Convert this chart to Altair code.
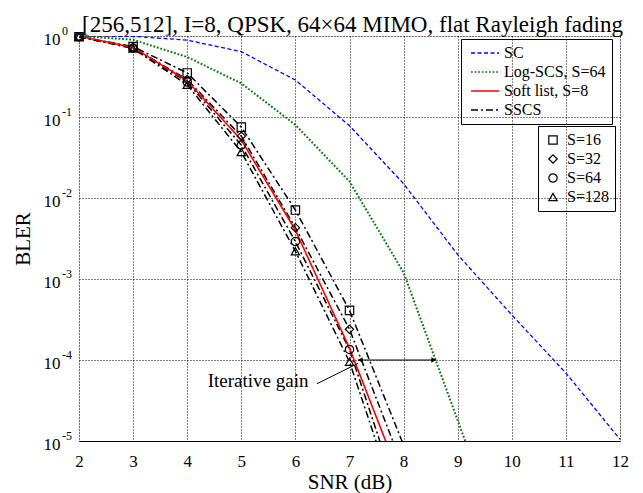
import altair as alt
import pandas as pd

FONT = "Liberation Serif"

# ---- data ----
snr_sc = [2, 3, 4, 5, 6, 7, 8, 9, 10, 11, 12]
bler_sc = [1.0, 0.99, 0.89, 0.64, 0.286, 0.078, 0.0150, 0.0020, 3.6e-4, 6.9e-5, 1.05e-5]

snr_log = [2, 3, 4, 5, 6, 7, 8, 9, 10]
bler_log = [1.0, 0.90, 0.55, 0.26, 0.080, 0.016, 0.0012, 1.8e-5, 2.5e-7]

snr_list = [2, 3, 4, 5, 6, 7, 8]
bler_soft = [1.0, 0.72, 0.28, 0.052, 0.0040, 1.4e-4, 2.7e-6]
bler_s16 = [0.98, 0.74, 0.35, 0.075, 0.0071, 4.1e-4, 8.9e-6]
bler_s32 = [0.98, 0.72, 0.29, 0.058, 0.0043, 2.4e-4, 4.5e-6]
bler_s64 = [0.98, 0.71, 0.27, 0.045, 0.0029, 1.35e-4, 1.3e-6]
bler_s128 = [0.98, 0.70, 0.25, 0.037, 0.0022, 9.5e-5, 9.5e-7]

methods = ["SC", "Log-SCS, S=64", "Soft list, S=8", "SSCS"]
s_labels = ["S=16", "S=32", "S=64", "S=128"]

x_ticks = [2, 3, 4, 5, 6, 7, 8, 9, 10, 11, 12]
y_ticks = [1, 0.1, 0.01, 0.001, 1e-4, 1e-5]
y_exps = ["0", "-1", "-2", "-3", "-4", "-5"]

# annotation: double arrow (iterative gain) and text with pointer
gain_x = [7.16]
gain_x2 = [8.60]
gain_y = [1e-4]
head_left_x = [7.20]
head_right_x = [8.556]
note_x = [4.38]
note_y = [4.7e-5]
note_text = ["Iterative gain"]
ptr_x = [6.40]
ptr_y = [5.1e-5]
ptr_x2 = [7.16]
ptr_y2 = [9.1e-5]

rows = []
def add(method, curve, xs, ys):
    for a, b in zip(xs, ys):
        rows.append({"snr": a, "bler": b, "method": method, "curve": curve})

add("SC", "SC", snr_sc, bler_sc)
add("Log-SCS, S=64", "Log-SCS", snr_log, bler_log)
add("Soft list, S=8", "Soft", snr_list, bler_soft)
for lab, ys in zip(s_labels, [bler_s16, bler_s32, bler_s64, bler_s128]):
    add("SSCS", lab, snr_list, ys)
df = pd.DataFrame(rows)

xscale = alt.Scale(domain=[2, 12], nice=False, zero=False)
yscale = alt.Scale(type="log", domain=[1e-5, 1], nice=False)

xaxis = alt.Axis(values=x_ticks, format="d", grid=True, gridDash=[1, 2], gridColor="black",
                 gridOpacity=1, ticks=False, tickSize=0, domainColor="black", domainWidth=1,
                 labelFont=FONT, labelFontSize=17, labelColor="black", labelPadding=12,
                 labelFlush=False, labelOverlap=False, titleFont=FONT, titleFontSize=21,
                 titleFontWeight="normal", titleColor="black", titlePadding=2)
yaxis = alt.Axis(values=y_ticks, labelExpr="'10'", grid=True, gridDash=[1, 2], gridColor="black",
                 gridOpacity=1, ticks=False, tickSize=0, domain=False,
                 labelFont=FONT, labelFontSize=17, labelColor="black", labelPadding=19,
                 labelBaseline="alphabetic", labelOffset=8, labelFlush=False, labelOverlap=False,
                 titleFont=FONT, titleFontSize=21, titleFontWeight="normal", titleColor="black",
                 titlePadding=10)

X = alt.X("snr:Q", scale=xscale, axis=xaxis, title="SNR (dB)")
Y = alt.Y("bler:Q", scale=yscale, axis=yaxis, title="BLER")

nb = "\u00a0"
leg1 = alt.Legend(title=None, orient="none", legendX=382, legendY=3, strokeColor="black",
                  padding=6, rowPadding=3, symbolType="M-2.8,0H2.8", symbolSize=100,
                  symbolStrokeWidth=1.5, symbolOffset=10, labelOffset=11,
                  labelFont=FONT, labelFontSize=16, labelColor="black",
                  labelExpr="datum.label + '" + nb * 2 + "'")
color = alt.Color("method:N", scale=alt.Scale(domain=methods,
                  range=["#0000ff", "#008000", "#ff0000", "#000000"]), legend=leg1)
dash = alt.StrokeDash("method:N", scale=alt.Scale(domain=methods,
                      range=[[4, 2.5], [1.8, 1.8], [1, 0], [7, 3, 2, 3]]), legend=leg1)

def line_layer(method, width):
    return (alt.Chart(df).transform_filter(alt.datum.method == method)
            .mark_line(clip=True, strokeWidth=width)
            .encode(x=X, y=Y, color=color, strokeDash=dash, detail="curve:N"))

l_sc = line_layer("SC", 1.3)
l_log = line_layer("Log-SCS, S=64", 2.0)
l_ss = line_layer("SSCS", 1.5)
l_soft = line_layer("Soft list, S=8", 1.6)

leg2 = alt.Legend(title=None, orient="none", legendX=459, legendY=90, strokeColor="black",
                  padding=6, rowPadding=3, symbolStrokeColor="black", symbolStrokeWidth=1.2,
                  symbolSize=70, symbolOffset=1, labelOffset=6,
                  labelFont=FONT, labelFontSize=16, labelColor="black",
                  labelExpr="datum.label + '" + nb * 3 + "'")
pts = (alt.Chart(df).transform_filter("datum.method == 'SSCS' && datum.bler >= 1e-5")
       .mark_point(filled=False, color="black", size=70, strokeWidth=1.2, opacity=1)
       .encode(x=X, y=Y,
               shape=alt.Shape("curve:N", scale=alt.Scale(domain=s_labels,
                               range=["square", "diamond", "circle", "triangle-up"]), legend=leg2)))

# y-axis exponents
exp_df = pd.DataFrame({"bler": y_ticks, "e": y_exps})
exps = (alt.Chart(exp_df).mark_text(align="left", baseline="alphabetic", font=FONT, fontSize=12,
                                    color="black", dy=-1)
        .encode(x=alt.value(-17), y=Y, text="e:N"))

# annotations
gain_df = pd.DataFrame({"snr": gain_x, "snr2": gain_x2, "bler": gain_y})
gain = alt.Chart(gain_df).mark_rule(color="black", strokeWidth=1).encode(x=X, x2="snr2:Q", y=Y)
hl = (alt.Chart(pd.DataFrame({"snr": head_left_x, "bler": gain_y}))
      .mark_point(shape="triangle-left", filled=True, color="black", size=30, opacity=1)
      .encode(x=X, y=Y))
hr = (alt.Chart(pd.DataFrame({"snr": head_right_x, "bler": gain_y}))
      .mark_point(shape="triangle-right", filled=True, color="black", size=30, opacity=1)
      .encode(x=X, y=Y))
ptr_df = pd.DataFrame({"snr": ptr_x, "bler": ptr_y, "snr2": ptr_x2, "bler2": ptr_y2})
ptr = (alt.Chart(ptr_df).mark_rule(color="black", strokeWidth=1)
       .encode(x=X, y=Y, x2="snr2:Q", y2="bler2:Q"))
note = (alt.Chart(pd.DataFrame({"snr": note_x, "bler": note_y, "t": note_text}))
        .mark_text(align="left", baseline="alphabetic", font=FONT, fontSize=19, color="black")
        .encode(x=X, y=Y, text="t:N"))

chart = (alt.layer(l_sc, l_log, l_ss, l_soft, pts, exps, gain, hl, hr, ptr, note)
         .resolve_scale(color="shared", strokeDash="shared")
         .properties(
             width=541, height=405,
             autosize=alt.AutoSizeParams(type="none"),
             padding={"left": 71, "top": 28, "right": 15, "bottom": 52},
             title=alt.TitleParams("[256,512], I=8, QPSK, 64\u00d764 MIMO, flat Rayleigh fading",
                                   font=FONT, fontSize=23, fontWeight="normal", color="black",
                                   anchor="middle", offset=4, dx=3, dy=16),
         )
         .configure_view(stroke="#808080", strokeWidth=1.3)
         .configure(background="white"))

chart.save("out.html", embed_options={"renderer": "svg", "actions": False})
